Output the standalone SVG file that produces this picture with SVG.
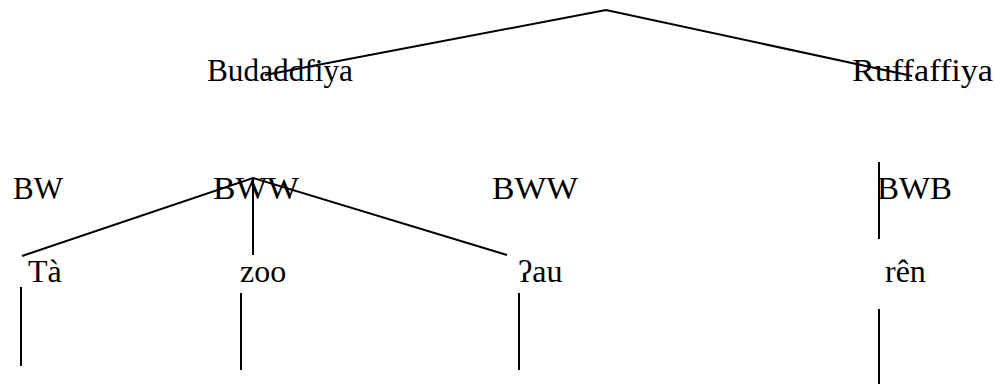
<svg xmlns="http://www.w3.org/2000/svg" width="1004" height="385" viewBox="0 0 1004 385">
  <style>
    .lbl { font-family: "Liberation Serif", "Times New Roman", serif; font-size: 32px; fill: #000; }
    .edge { stroke: #000; stroke-width: 2; fill: none; stroke-linecap: butt; }
  </style>
  <rect width="1004" height="385" fill="#fff"/>

  <!-- tree branches -->
  <g id="connectors">
    <polyline class="edge" points="265,75 606,10 912,76"/>
    <polyline class="edge" points="22,256 253,178 507,255"/>
    <line class="edge" x1="253" y1="178" x2="253" y2="255"/>
    <line class="edge" x1="879" y1="162" x2="879" y2="239"/>
    <line class="edge" x1="21" y1="287" x2="21" y2="366"/>
    <line class="edge" x1="241" y1="293" x2="241" y2="370"/>
    <line class="edge" x1="519" y1="293" x2="519" y2="370"/>
    <line class="edge" x1="879" y1="309" x2="879" y2="384"/>
  </g>

  <!-- branch labels -->
  <g id="budaddfiya"><text class="lbl" x="207" y="81" textLength="146" lengthAdjust="spacingAndGlyphs">Budaddfiya</text></g>
  <g id="ruffaffiya"><text class="lbl" x="852" y="81" textLength="141" lengthAdjust="spacingAndGlyphs">Ruffaffiya</text></g>

  <!-- pattern labels -->
  <g id="bw"><text class="lbl" x="13" y="199" textLength="50" lengthAdjust="spacingAndGlyphs">BW</text></g>
  <g id="bww-1"><text class="lbl" x="213" y="199" textLength="86" lengthAdjust="spacingAndGlyphs">BWW</text></g>
  <g id="bww-2"><text class="lbl" x="492" y="199" textLength="86" lengthAdjust="spacingAndGlyphs">BWW</text></g>
  <g id="bwb"><text class="lbl" x="877" y="199" textLength="75" lengthAdjust="spacingAndGlyphs">BWB</text></g>

  <!-- word labels -->
  <g id="ta"><text class="lbl" x="28" y="282">Tà</text></g>
  <g id="zoo"><text class="lbl" x="240" y="282">zoo</text></g>
  <g id="glottal-au"><text class="lbl" x="518" y="282">ʔau</text></g>
  <g id="ren"><text class="lbl" x="885" y="282">rên</text></g>
</svg>
